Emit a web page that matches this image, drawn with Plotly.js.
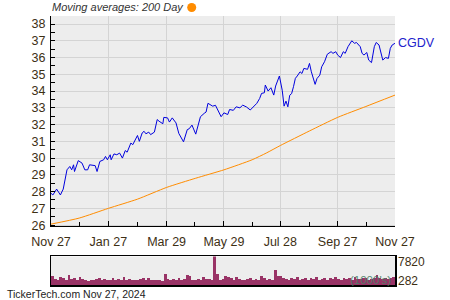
<!DOCTYPE html>
<html>
<head>
<meta charset="utf-8">
<script src="https://cdn.plot.ly/plotly-3.0.1.min.js"></script>
<style>html,body{margin:0;padding:0;background:#fff;}#chart{width:450px;height:300px;}</style>
</head>
<body>
<div id="chart"></div>
<script>
// CGDV closing prices
const priceDates = [
'2023-11-27','2023-11-29','2023-12-03','2023-12-07','2023-12-10','2023-12-14','2023-12-17','2023-12-19','2023-12-21','2023-12-22',
'2023-12-26','2023-12-30','2024-01-02','2024-01-05','2024-01-07','2024-01-13','2024-01-15','2024-01-18','2024-01-22','2024-01-24',
'2024-01-26','2024-01-29','2024-01-30','2024-02-02','2024-02-05','2024-02-08','2024-02-11','2024-02-14','2024-02-16','2024-02-20',
'2024-02-22','2024-02-27','2024-02-29','2024-03-03','2024-03-05','2024-03-07','2024-03-10','2024-03-12','2024-03-16','2024-03-19',
'2024-03-21','2024-03-25','2024-03-26','2024-03-30','2024-04-01','2024-04-04','2024-04-08','2024-04-11','2024-04-16','2024-04-20',
'2024-04-22','2024-04-25','2024-04-29','2024-05-04','2024-05-08','2024-05-10','2024-05-12','2024-05-17','2024-05-20','2024-05-26',
'2024-05-29','2024-06-02','2024-06-04','2024-06-08','2024-06-11','2024-06-15','2024-06-18','2024-06-22','2024-06-26','2024-07-03',
'2024-07-06','2024-07-08','2024-07-11','2024-07-12','2024-07-15','2024-07-18','2024-07-21','2024-07-23','2024-07-25','2024-07-27',
'2024-07-30','2024-08-01','2024-08-03','2024-08-05','2024-08-07','2024-08-09','2024-08-11','2024-08-13','2024-08-15','2024-08-18',
'2024-08-20','2024-08-22','2024-08-26','2024-08-28','2024-08-30','2024-09-03','2024-09-05','2024-09-08','2024-09-10','2024-09-13',
'2024-09-16','2024-09-20','2024-09-22','2024-09-25','2024-09-27','2024-09-30','2024-10-03','2024-10-05','2024-10-08','2024-10-12',
'2024-10-15','2024-10-17','2024-10-21','2024-10-23','2024-10-25','2024-10-28','2024-10-30','2024-11-02','2024-11-05','2024-11-07',
'2024-11-10','2024-11-12','2024-11-14','2024-11-17','2024-11-20','2024-11-22','2024-11-24','2024-11-27'
];
const priceValues = [
27.9,27.8,28.15,27.8,28.15,29.3,29.5,29.3,29.6,29.2,
29.85,29.7,29.3,29.3,29.6,29.55,29.2,29.8,29.9,30.1,
29.9,30.2,29.9,30.25,30.2,30.3,30.0,30.45,30.35,30.9,
30.8,31.35,31.0,31.5,31.6,31.45,31.55,31.4,31.55,32.3,
32.2,32.05,32.43,32.4,32.15,32.4,32.1,31.47,30.97,31.7,
31.75,31.97,31.43,32.47,32.67,32.75,33.27,33.1,33.15,32.47,
32.7,32.6,32.9,32.85,33.06,33.0,33.16,33.05,32.87,33.27,
33.56,33.86,33.9,34.36,34.0,34.2,33.76,34.3,34.6,34.9,
34.05,33.1,33.4,33.06,33.75,33.85,34.26,34.76,34.9,35.15,
35.05,35.35,35.3,35.65,35.15,34.4,34.75,34.95,35.45,35.75,
36.2,36.35,36.25,36.35,36.15,36.0,36.35,36.25,36.65,37.0,
36.85,36.9,36.65,36.25,36.15,36.3,35.85,35.7,36.65,36.9,
36.75,36.3,35.85,36.0,35.95,36.55,36.75,36.85
];
// 200-day moving average
const maDates = ['2023-11-27','2023-12-27','2024-01-27','2024-02-27','2024-03-29','2024-04-29','2024-05-29','2024-06-28','2024-07-13','2024-07-28','2024-08-28','2024-09-27','2024-10-27','2024-11-27'];
const maValues = [26.06,26.42,27.0,27.55,28.25,28.8,29.3,29.9,30.3,30.75,31.62,32.43,33.08,33.76];
// volume (1000's)
const volumeValues = [
2680,1900,1610,2410,2230,1700,2940,1960,2220,1600,2410,1960,1500,1350,1690,1550,1960,2220,1700,1960,
1550,1690,2220,1600,1800,1500,2490,1690,1960,1550,1690,1500,1960,2140,1600,2220,1700,1530,1690,1530,
1450,3290,1960,1600,1880,1700,2220,1600,1960,3020,2600,1700,1690,1880,1600,2410,1800,1960,1700,7820,
3130,1690,1800,2760,2410,2060,1700,2410,1960,1600,1690,1800,2220,1700,1880,1600,2760,2220,1700,1960,
1600,4350,2600,2760,2220,1960,1700,2060,1800,2410,1700,1960,2220,1600,2060,1800,2490,1700,1960,2220,
1690,2060,1800,2410,1960,1700,2220,1880,2060,1700,2410,1960,1800,2220,2060,1700,1960,2220,2940,2060,
1880,2220,1960,2060,2410
];
const volumeIndex = volumeValues.map((v, i) => i);
const tickDates = ['2023-11-27','2024-01-27','2024-03-29','2024-05-29','2024-07-28','2024-09-27','2024-11-27'];
const tickLabels = ['Nov 27','Jan 27','Mar 29','May 29','Jul 28','Sep 27','Nov 27'];
const minorTickDates = ['2023-12-27','2024-02-27','2024-04-28','2024-06-28','2024-08-28','2024-10-28'];
const volumeLabels = ['7820','282'];

const FONT = 'Liberation Sans, Arial, sans-serif';
const TXT = '#3d2f14';

const traces = [
  {x: maDates, y: maValues, type: 'scatter', mode: 'lines', line: {color: '#ff8c00', width: 1, shape: 'spline', smoothing: 0.6}, xaxis: 'x', yaxis: 'y', hoverinfo: 'skip'},
  {x: priceDates, y: priceValues, type: 'scatter', mode: 'lines', line: {color: '#0000dd', width: 1}, xaxis: 'x', yaxis: 'y', hoverinfo: 'skip'},
  {x: volumeIndex, y: volumeValues, type: 'bar', marker: {color: '#993366', line: {width: 0}}, xaxis: 'x2', yaxis: 'y2', hoverinfo: 'skip'}
];

const layout = {
  width: 450, height: 300,
  margin: {l: 51, r: 55, t: 16, b: 15},
  paper_bgcolor: '#ffffff',
  plot_bgcolor: '#ededed',
  showlegend: false,
  bargap: 0,
  font: {family: FONT, size: 12, color: TXT},
  xaxis: {
    type: 'date', range: ['2023-11-27', '2024-11-27'],
    domain: [0, 1], anchor: 'y',
    tickmode: 'array', tickvals: tickDates, ticktext: tickLabels,
    ticks: 'inside', ticklen: 5, tickcolor: '#000', tickwidth: 1,
    ticklabelstandoff: 4,
    showline: true, linecolor: '#000', linewidth: 1,
    showgrid: true, gridcolor: '#d4d4d4', gridwidth: 1,
    zeroline: false,
    tickfont: {family: FONT, size: 12.5, color: TXT},
    minor: {tickmode: 'array', tickvals: minorTickDates, ticks: 'inside', ticklen: 4, tickcolor: '#000', showgrid: false}
  },
  yaxis: {
    range: [25.92, 38.48], domain: [0.2176, 1], anchor: 'x',
    dtick: 1, tick0: 26,
    ticks: 'inside', ticklen: 4, tickcolor: '#000',
    ticklabelstandoff: 2,
    showline: true, linecolor: '#000', linewidth: 1,
    showgrid: true, gridcolor: '#d4d4d4', gridwidth: 1,
    zeroline: false,
    tickfont: {family: FONT, size: 12.5, color: TXT},
    minor: {dtick: 0.5, ticks: 'inside', ticklen: 4, tickcolor: '#000', showgrid: false}
  },
  xaxis2: {
    range: [-0.5, volumeValues.length - 0.5], domain: [0, 1], anchor: 'y2',
    showticklabels: false, ticks: '', showgrid: false, zeroline: false,
    showline: true, mirror: true, linecolor: '#000', linewidth: 1.5
  },
  yaxis2: {
    range: [282, 7820], domain: [0, 0.106], anchor: 'x2',
    showticklabels: false, ticks: '', showgrid: false, zeroline: false,
    showline: true, mirror: true, linecolor: '#000', linewidth: 1.5
  },
  shapes: [
    {type: 'circle', xref: 'paper', yref: 'paper', xsizemode: 'pixel', ysizemode: 'pixel',
     xanchor: 0.409, yanchor: 1.0316, x0: -4.5, x1: 4.5, y0: -4.5, y1: 4.5,
     fillcolor: '#ff8c00', line: {width: 0}}
  ],
  annotations: [
    {text: '<i>Moving averages: 200 Day</i>', xref: 'paper', yref: 'paper', x: -0.003, y: 1.0316,
     xanchor: 'left', yanchor: 'middle', showarrow: false, font: {family: FONT, size: 11, color: '#333333'}},
    {text: 'CGDV', xref: 'paper', yref: 'y', x: 1, y: 36.85, xshift: 1,
     xanchor: 'left', yanchor: 'middle', showarrow: false, font: {family: FONT, size: 12.5, color: '#2222cc'}},
    {text: volumeLabels[0], xref: 'paper', yref: 'paper', x: 1, y: 0.085, xshift: 1,
     xanchor: 'left', yanchor: 'middle', showarrow: false, font: {family: FONT, size: 12, color: TXT}},
    {text: volumeLabels[1], xref: 'paper', yref: 'paper', x: 1, y: 0.0134, xshift: 1,
     xanchor: 'left', yanchor: 'middle', showarrow: false, font: {family: FONT, size: 12, color: TXT}},
    {text: "(1000's)", xref: 'paper', yref: 'paper', x: 0.993, y: 0.0171,
     xanchor: 'right', yanchor: 'middle', showarrow: false, opacity: 0.9, font: {family: FONT, size: 11.5, color: '#4c8068'}},
    {text: 'TickerTech.com Nov 27, 2024', xref: 'paper', yref: 'paper', x: -0.1337, y: -0.0334,
     xanchor: 'left', yanchor: 'middle', showarrow: false, font: {family: FONT, size: 10.5, color: '#222222'}}
  ]
};

Plotly.newPlot('chart', traces, layout, {staticPlot: true, displayModeBar: false});
</script>
</body>
</html>
